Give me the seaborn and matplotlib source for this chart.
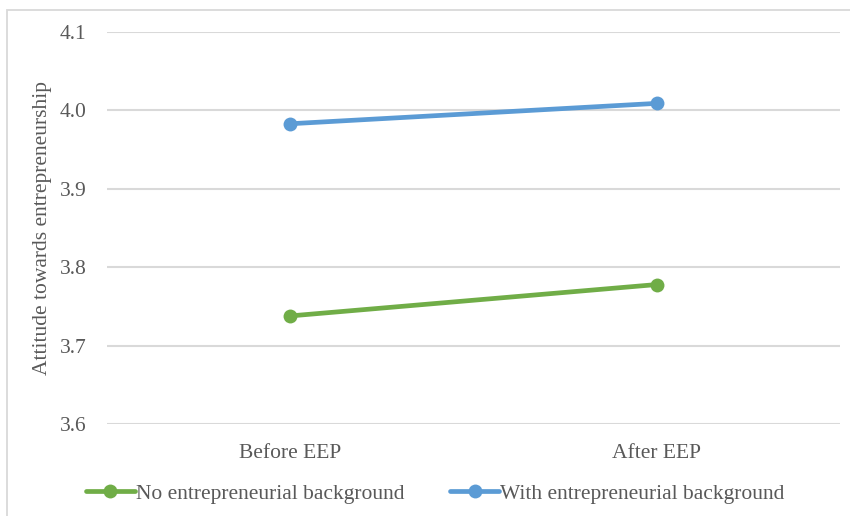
import matplotlib
matplotlib.use("Agg")
from matplotlib import pyplot as plt
from matplotlib.patches import Rectangle
import numpy as np
import pandas as pd
import seaborn as sns

# values
stages = ["Before EEP", "After EEP"]
no_background = [3.738, 3.778]
with_background = [3.983, 4.009]
groups = ["No entrepreneurial background", "With entrepreneurial background"]
y_ticks = [3.6, 3.7, 3.8, 3.9, 4.0, 4.1]

df = pd.DataFrame(
    {
        "stage": stages * 2,
        "score": no_background + with_background,
        "group": [groups[0]] * 2 + [groups[1]] * 2,
    }
)

sns.set_style("white")
plt.rcParams["font.family"] = ["Liberation Serif", "DejaVu Serif"]
text_color = "#595959"
fs = 15.5

fig = plt.figure(figsize=(8.5, 5.16), dpi=100)
ax = fig.add_axes([0.126, 0.178, 0.862, 0.760])

sns.lineplot(
    data=df,
    x="stage",
    y="score",
    hue="group",
    palette=["#70AD47", "#5B9BD5"],
    marker="o",
    markersize=10,
    markeredgewidth=0,
    linewidth=3.4,
    ax=ax,
    zorder=3,
)

ax.set_xlim(-0.5, 1.5)
ax.set_ylim(3.6, 4.1)
ax.set_yticks(y_ticks)
ax.set_yticklabels([f"{v:.1f}" for v in y_ticks])
ax.yaxis.grid(True, color="#d9d9d9", linewidth=1.5)
ax.xaxis.grid(False)
for s in ax.spines.values():
    s.set_visible(False)
ax.tick_params(axis="both", length=0, labelsize=fs, labelcolor=text_color)
ax.tick_params(axis="y", pad=15)
ax.tick_params(axis="x", pad=14)
ax.set_xlabel("")
ax.set_ylabel("Attitude towards entrepreneurship", fontsize=fs, color=text_color, labelpad=5)

leg = ax.legend(
    loc="center",
    bbox_to_anchor=(0.512, 0.043),
    bbox_transform=fig.transFigure,
    ncol=2,
    frameon=False,
    fontsize=fs,
    handlelength=2.3,
    handletextpad=0.05,
    columnspacing=2.1,
)
for t in leg.get_texts():
    t.set_color(text_color)

# outer chart border like the office chart frame
fig.patches.append(
    Rectangle((7 / 850, -0.05), 1.2, 1 - 10 / 516 + 0.05, transform=fig.transFigure,
              fill=False, edgecolor="#d9d9d9", linewidth=1.3)
)

fig.savefig("out.png", dpi=100)
